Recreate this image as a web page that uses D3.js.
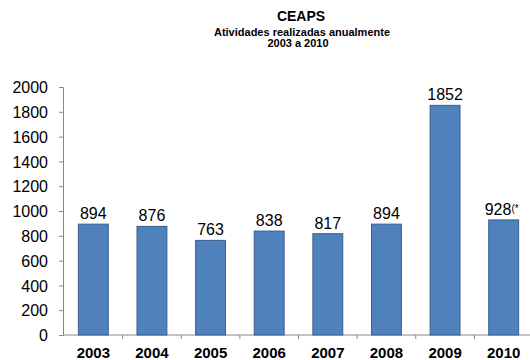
<!DOCTYPE html>
<html lang="pt">
<head>
    <meta charset="utf-8">
    <title>CEAPS</title>
    <script src="https://d3js.org/d3.v7.min.js"></script>
    <style>
        body{ margin: 0; background: #fff; }
        text{ font-family: "Liberation Sans", Arial, sans-serif; fill: #000; }
        .titleT{ font-weight: bold; font-size: 14px; }
        .subT{ font-weight: bold; font-size: 11px; }
        .tickT{ font-size: 16px; }
        .catT{ font-weight: bold; font-size: 15px; }
        .valT{ font-size: 16px; }
    </style>
</head>
<body>
    <div id="container"></div>
    <script type="text/javascript">
        var years = ['2003', '2004', '2005', '2006', '2007', '2008', '2009', '2010'];
        var values = [894, 876, 763, 838, 817, 894, 1852, 928];
        var valueNotes = ['', '', '', '', '', '', '', '(*'];
        var yTicks = [0, 200, 400, 600, 800, 1000, 1200, 1400, 1600, 1800, 2000];

        var width = 530, height = 360;
        var svg = d3.select('#container')
                    .append('svg')
                    .attr('width', width)
                    .attr('height', height);

        svg.append('text').attr('class', 'titleT')
           .attr('x', 301).attr('y', 21).attr('text-anchor', 'middle').text('CEAPS');
        svg.append('text').attr('class', 'subT')
           .attr('x', 302).attr('y', 36).attr('text-anchor', 'middle').text('Atividades realizadas anualmente');
        svg.append('text').attr('class', 'subT')
           .attr('x', 298).attr('y', 47).attr('text-anchor', 'middle').text('2003 a 2010');

        var xScale = d3.scaleBand().domain(years).range([64, 533]).paddingInner(0.49).paddingOuter(0.245);
        var yScale = d3.scaleLinear().domain([0, 2000]).range([335, 87]);

        // y axis
        var yAxis = svg.append('g')
           .attr('transform', 'translate(63,0)')
           .call(d3.axisLeft(yScale).tickValues(yTicks).tickFormat(d3.format('d')).tickSize(4).tickPadding(11));
        yAxis.select('.domain').attr('stroke', '#888');
        yAxis.selectAll('.tick line').attr('stroke', '#888');
        yAxis.selectAll('.tick text').attr('class', 'tickT').attr('dy', '0.35em');

        // x axis: baseline with ticks between categories
        var xAxisG = svg.append('g').attr('transform', 'translate(0,335)');
        xAxisG.append('line')
              .attr('x1', 63).attr('x2', width)
              .attr('y1', 0).attr('y2', 0)
              .attr('stroke', '#888');
        var step = xScale.step();
        xAxisG.selectAll('.sep')
              .data(years.slice(1))
              .enter().append('line')
              .attr('x1', d => xScale(d) - step * xScale.paddingInner() / 2)
              .attr('x2', d => xScale(d) - step * xScale.paddingInner() / 2)
              .attr('y1', 0).attr('y2', 4)
              .attr('stroke', '#888');
        xAxisG.selectAll('.catT')
              .data(years)
              .enter().append('text')
              .attr('class', 'catT')
              .attr('x', d => xScale(d) + xScale.bandwidth() / 2)
              .attr('y', 23)
              .attr('text-anchor', 'middle')
              .text(d => d);

        // bars
        var data = years.map((y, i) => ({year: y, value: values[i], note: valueNotes[i]}));
        svg.selectAll('.bar')
           .data(data)
           .enter().append('rect')
           .attr('class', 'bar')
           .attr('x', d => xScale(d.year))
           .attr('y', d => yScale(d.value))
           .attr('width', xScale.bandwidth())
           .attr('height', d => yScale(0) - yScale(d.value))
           .attr('fill', '#4f81bd')
           .attr('stroke', '#3a5f8c')
           .attr('stroke-width', 1);

        var labels = svg.selectAll('.valT')
           .data(data)
           .enter().append('text')
           .attr('class', 'valT')
           .attr('x', d => xScale(d.year) + xScale.bandwidth() / 2 + (d.note ? -2 : 0))
           .attr('y', d => yScale(d.value) - 5)
           .attr('text-anchor', 'middle');
        labels.append('tspan').text(d => d.value);
        labels.filter(d => d.note).append('tspan')
              .attr('font-size', '10px').attr('dy', '-3').text(d => d.note);
    </script>
</body>
</html>
